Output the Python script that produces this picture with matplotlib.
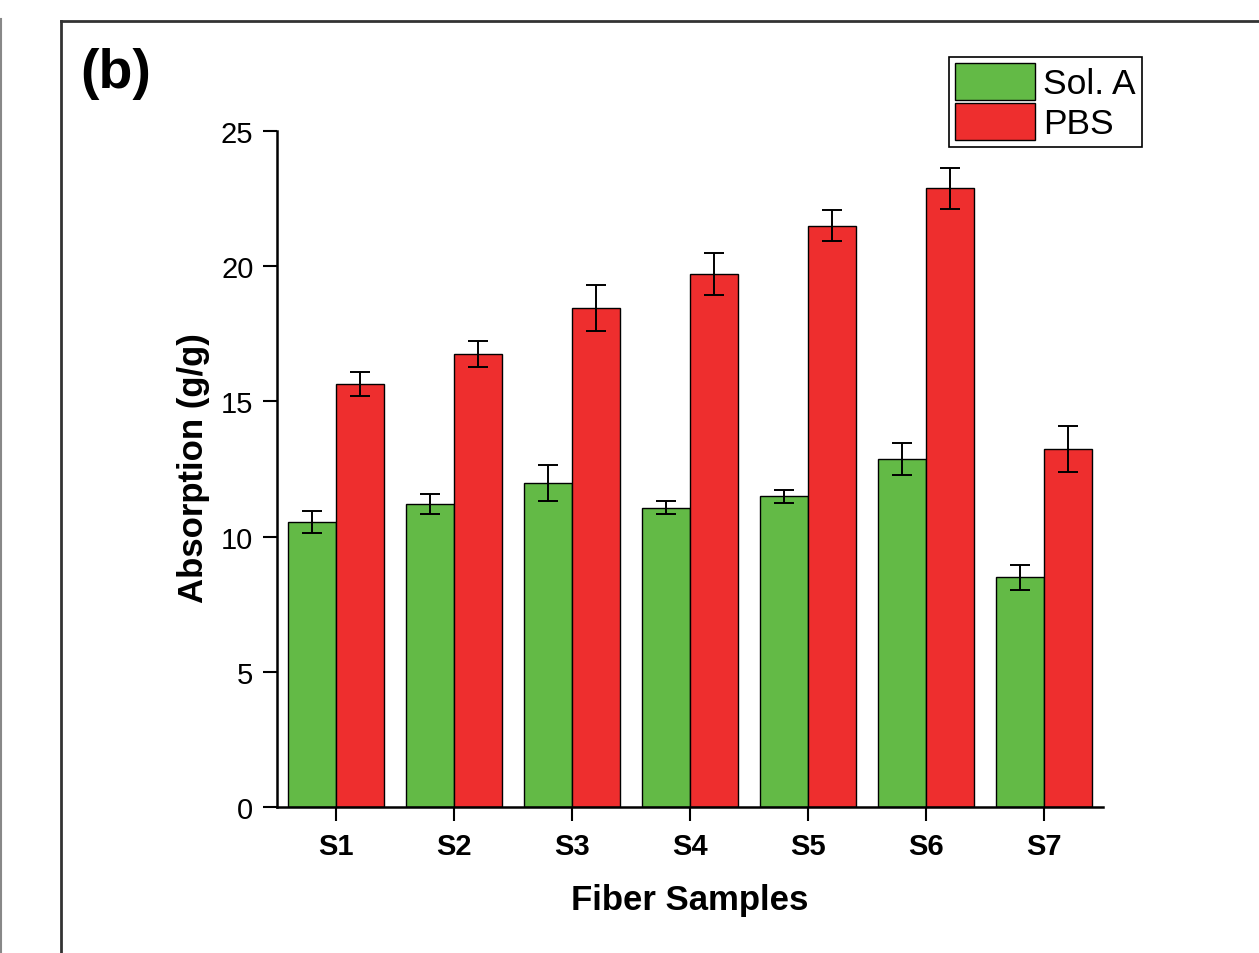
import matplotlib.pyplot as plt
import numpy as np
from matplotlib.lines import Line2D

plt.rcParams["font.family"] = ["Liberation Sans", "DejaVu Sans"]

samples = ["S1", "S2", "S3", "S4", "S5", "S6", "S7"]
sol_a = [10.55, 11.2, 11.98, 11.06, 11.5, 12.87, 8.5]
sol_a_err = [0.40, 0.37, 0.68, 0.24, 0.24, 0.59, 0.46]
pbs = [15.64, 16.75, 18.45, 19.71, 21.49, 22.89, 13.24]
pbs_err = [0.43, 0.48, 0.85, 0.78, 0.57, 0.76, 0.85]

green = "#63BA46"
red = "#EE2E2E"

fig = plt.figure(figsize=(12.59, 9.54), dpi=100)
ax = fig.add_axes([277 / 1259, 1 - 808 / 954, 826 / 1259, 676 / 954])

x = np.arange(1, len(samples) + 1)
width = 0.405
err_kw = dict(ecolor="black", elinewidth=1.4, capsize=7, capthick=1.4)
ax.bar(x - width / 2, sol_a, width, yerr=sol_a_err, color=green,
       edgecolor="black", linewidth=1.0, label="Sol. A", error_kw=err_kw)
ax.bar(x + width / 2, pbs, width, yerr=pbs_err, color=red,
       edgecolor="black", linewidth=1.0, label="PBS", error_kw=err_kw)

ax.set_xlim(0.5, 7.5)
ax.set_ylim(0, 25)
ax.set_yticks([0, 5, 10, 15, 20, 25])
ax.set_xticks(x, samples, fontweight="bold")
ax.tick_params(axis="both", labelsize=21, direction="out", length=10, width=1.5)
ax.tick_params(axis="y", pad=7)
ax.tick_params(axis="x", pad=8)
for side in ["top", "right"]:
    ax.spines[side].set_visible(False)
for side in ["left", "bottom"]:
    ax.spines[side].set_linewidth(1.8)

fig.text(193 / 1259, 1 - 468 / 954, "Absorption (g/g)", rotation=90,
         ha="center", va="center", fontsize=25, fontweight="bold")
fig.text(690 / 1259, 1 - 901 / 954, "Fiber Samples",
         ha="center", va="center", fontsize=25, fontweight="bold")
fig.text(80 / 1259, 1 - 88 / 954, "(b)", ha="left", va="baseline",
         fontsize=40, fontweight="bold")

leg = ax.legend(loc="upper left", bbox_to_anchor=(949 / 1259, 1 - 58 / 954),
                bbox_transform=fig.transFigure, fontsize=25.5, frameon=True,
                fancybox=False, edgecolor="black", framealpha=1,
                handlelength=2.25, handleheight=1.2, handletextpad=0.22,
                labelspacing=0.08, borderpad=0.18, borderaxespad=0)
leg.get_frame().set_linewidth(1.2)

# panel frame
fig.add_artist(Line2D([61 / 1259, 61 / 1259], [0, 1 - 22 / 954],
                      transform=fig.transFigure, color="#333333", linewidth=2))
fig.add_artist(Line2D([61 / 1259, 1], [1 - 22 / 954, 1 - 22 / 954],
                      transform=fig.transFigure, color="#333333", linewidth=2))
fig.add_artist(Line2D([0.5 / 1259, 0.5 / 1259], [0, 1 - 20 / 954],
                      transform=fig.transFigure, color="#888888", linewidth=1.5))

fig.savefig("out.png", dpi=100)
